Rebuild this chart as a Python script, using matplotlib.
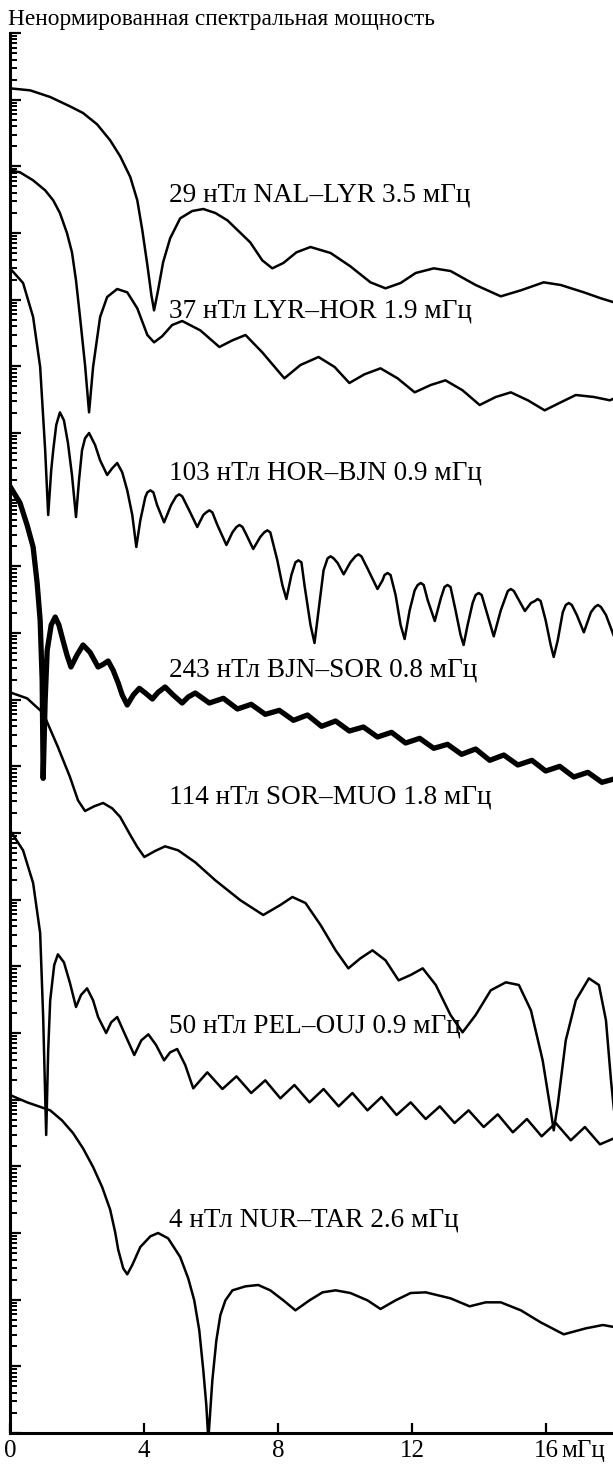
import numpy as np
import matplotlib
matplotlib.use("Agg")
import matplotlib.pyplot as plt

# frequency in mHz, power as log10 (arbitrary units, curves are stacked)
f1 = [0.00, 0.60, 1.20, 1.79, 2.18, 2.60, 2.99, 3.29, 3.59, 3.80, 3.95, 4.10, 4.22, 4.30, 4.42, 4.57,
      4.78, 5.08, 5.44, 5.77, 6.13, 6.49, 7.17, 7.53, 7.83, 8.16, 8.55, 8.97, 9.57, 10.16, 10.76, 11.21,
      11.66, 12.11, 12.65, 13.15, 13.90, 14.65, 15.25, 15.93, 16.44, 17.13, 17.64, 18.03]
p1 = [20.17, 20.14, 20.04, 19.90, 19.80, 19.63, 19.39, 19.15, 18.84, 18.49, 18.04, 17.52, 17.07, 16.84,
      17.14, 17.56, 17.92, 18.22, 18.33, 18.36, 18.30, 18.19, 17.86, 17.59, 17.47, 17.55, 17.71, 17.79,
      17.70, 17.50, 17.26, 17.17, 17.25, 17.40, 17.47, 17.43, 17.22, 17.05, 17.14, 17.26, 17.22, 17.11,
      17.02, 16.96]

f2 = [0.00, 0.30, 0.69, 1.05, 1.29, 1.49, 1.70, 1.85, 1.97, 2.09, 2.24, 2.36, 2.48, 2.69, 2.90, 3.20,
      3.50, 3.80, 4.10, 4.30, 4.54, 4.84, 5.14, 5.68, 6.25, 6.64, 7.03, 7.53, 8.19, 8.67, 9.21, 9.69,
      10.13, 10.58, 11.06, 11.57, 12.08, 12.56, 13.00, 13.51, 14.02, 14.50, 14.95, 15.46, 15.96, 16.44,
      16.89, 17.43, 17.91, 18.03]
p2 = [18.94, 18.91, 18.79, 18.64, 18.49, 18.30, 18.00, 17.71, 17.29, 16.74, 16.02, 15.31, 15.99, 16.74,
      17.04, 17.16, 17.11, 16.87, 16.47, 16.36, 16.45, 16.62, 16.68, 16.54, 16.29, 16.39, 16.47, 16.21,
      15.82, 16.02, 16.14, 15.99, 15.75, 15.88, 15.97, 15.82, 15.61, 15.72, 15.79, 15.64, 15.42, 15.54,
      15.61, 15.49, 15.34, 15.46, 15.57, 15.54, 15.49, 15.52]

f3 = [0.00, 0.39, 0.69, 0.90, 1.05, 1.14, 1.23, 1.29, 1.38, 1.49, 1.61, 1.73, 1.85, 1.97, 2.06, 2.15,
      2.24, 2.36, 2.54, 2.69, 2.90, 3.05, 3.20, 3.35, 3.50, 3.65, 3.77, 3.89, 4.04, 4.19, 4.39, 4.60,
      4.81, 5.05, 5.32, 5.59, 5.77, 5.95, 6.19, 6.46, 6.64, 6.85, 7.06, 7.26, 7.47, 7.68, 7.83, 7.98,
      8.13, 8.25, 8.40, 8.61, 8.79, 8.97, 9.09, 9.21, 9.36, 9.57, 9.78, 9.96, 10.16, 10.40, 10.67,
      10.97, 11.12, 11.27, 11.51, 11.66, 11.78, 11.93, 12.08, 12.26, 12.47, 12.68, 12.86, 13.06, 13.30,
      13.45, 13.54, 13.66, 13.81, 13.99, 14.23, 14.44, 14.65, 14.95, 15.16, 15.37, 15.55, 15.75, 15.99,
      16.14, 16.23, 16.35, 16.50, 16.68, 16.92, 17.13, 17.34, 17.55, 17.79, 18.03]
p3 = [17.47, 17.25, 16.74, 15.99, 14.74, 13.77, 14.44, 14.74, 15.12, 15.31, 15.19, 14.85, 14.37, 13.74,
      14.29, 14.74, 14.92, 15.00, 14.82, 14.59, 14.37, 14.47, 14.55, 14.41, 14.14, 13.77, 13.29, 13.69,
      14.04, 14.14, 13.92, 13.66, 13.92, 14.08, 13.87, 13.59, 13.77, 13.84, 13.62, 13.32, 13.51, 13.62,
      13.47, 13.26, 13.44, 13.54, 13.39, 13.09, 12.72, 12.51, 12.87, 13.09, 12.72, 12.12, 11.85, 12.34,
      12.94, 13.15, 13.05, 12.88, 13.06, 13.18, 12.97, 12.66, 12.79, 12.90, 12.57, 12.12, 11.91, 12.34,
      12.64, 12.75, 12.49, 12.18, 12.52, 12.72, 12.34, 11.97, 11.82, 12.12, 12.45, 12.60, 12.31, 11.95,
      12.34, 12.66, 12.52, 12.33, 12.45, 12.51, 12.19, 11.82, 11.64, 11.89, 12.31, 12.45, 12.27, 12.01,
      12.31, 12.42, 12.27, 11.95]
# shoulders of the rounded peaks of curve 3
f3_pk = [4.10, 4.28, 4.96, 5.14, 5.86, 6.04, 6.76, 6.94, 7.59, 7.77, 8.52, 8.70, 9.48, 9.66, 10.31,
         10.49, 11.18, 11.36, 12.17, 12.35, 12.97, 13.15, 13.90, 14.08, 14.86, 15.04, 15.67, 15.84,
         16.59, 16.77, 17.46, 17.64]
p3_pk = [14.11, 14.11, 14.05, 14.05, 13.81, 13.81, 13.59, 13.59, 13.51, 13.51, 13.06, 13.06, 13.12,
         13.12, 13.15, 13.15, 12.87, 12.87, 12.72, 12.72, 12.69, 12.69, 12.57, 12.57, 12.63, 12.63,
         12.48, 12.48, 12.42, 12.42, 12.39, 12.39]

f4 = [0.00, 0.30, 0.51, 0.69, 0.81, 0.90, 0.96, 0.99, 1.05, 1.11, 1.23, 1.35, 1.46, 1.58, 1.70, 1.82,
      2.00, 2.18, 2.39, 2.63, 2.78, 2.93, 3.08, 3.23, 3.35, 3.50, 3.68, 3.86, 4.04, 4.25, 4.42, 4.63,
      4.87, 5.14, 5.32, 5.53, 5.95, 6.37, 6.79, 7.20, 7.62, 8.04, 8.46, 8.88, 9.30, 9.72, 10.13, 10.55,
      10.97, 11.39, 11.81, 12.23, 12.65, 13.06, 13.48, 13.90, 14.32, 14.74, 15.16, 15.58, 15.99, 16.41,
      16.83, 17.25, 17.67, 18.03]
p4 = [14.20, 13.95, 13.62, 13.29, 12.75, 12.19, 11.29, 9.82, 11.00, 11.74, 12.12, 12.24, 12.12, 11.89,
      11.67, 11.49, 11.67, 11.82, 11.71, 11.49, 11.53, 11.58, 11.44, 11.25, 11.07, 10.92, 11.07, 11.17,
      11.10, 11.01, 11.11, 11.19, 11.07, 10.95, 11.04, 11.10, 10.95, 11.02, 10.86, 10.93, 10.78, 10.84,
      10.69, 10.77, 10.60, 10.68, 10.53, 10.59, 10.44, 10.51, 10.35, 10.42, 10.27, 10.33, 10.18, 10.26,
      10.09, 10.17, 10.02, 10.09, 9.93, 10.00, 9.84, 9.91, 9.76, 9.81]

f5 = [0.00, 0.51, 0.99, 1.43, 1.79, 2.03, 2.24, 2.51, 2.78, 3.05, 3.29, 3.59, 3.80, 4.01, 4.33, 4.63,
      5.02, 5.53, 6.13, 6.88, 7.56, 8.07, 8.43, 8.82, 9.27, 9.72, 10.10, 10.46, 10.82, 11.21, 11.60,
      11.96, 12.32, 12.71, 13.15, 13.51, 13.90, 14.35, 14.80, 15.19, 15.55, 15.90, 16.14, 16.23, 16.35,
      16.59, 16.89, 17.28, 17.58, 17.79, 17.94, 18.03]
p5 = [11.11, 11.02, 10.80, 10.29, 9.84, 9.49, 9.33, 9.40, 9.45, 9.37, 9.24, 8.97, 8.79, 8.64, 8.73, 8.80,
      8.74, 8.56, 8.29, 7.99, 7.77, 7.92, 8.04, 7.95, 7.62, 7.24, 6.97, 7.12, 7.24, 7.09, 6.79, 6.87,
      6.97, 6.72, 6.27, 6.01, 6.27, 6.64, 6.76, 6.72, 6.34, 5.59, 4.84, 4.54, 4.92, 5.89, 6.49, 6.82,
      6.72, 6.19, 5.29, 4.84]

f6 = [0.00, 0.39, 0.69, 0.90, 0.99, 1.08, 1.14, 1.20, 1.32, 1.43, 1.61, 1.79, 1.97, 2.12, 2.30, 2.48,
      2.63, 2.87, 3.02, 3.20, 3.44, 3.71, 3.92, 4.13, 4.36, 4.60, 4.78, 4.99, 5.23, 5.47, 5.89, 6.34,
      6.76, 7.20, 7.62, 8.07, 8.49, 8.94, 9.36, 9.81, 10.22, 10.67, 11.09, 11.54, 11.96, 12.41, 12.83,
      13.27, 13.69, 14.14, 14.56, 15.01, 15.43, 15.87, 16.29, 16.74, 17.16, 17.61, 18.03]
p6 = [9.04, 8.74, 8.25, 7.50, 6.24, 4.47, 5.74, 6.49, 7.02, 7.18, 7.06, 6.75, 6.39, 6.57, 6.67, 6.49,
      6.24, 6.00, 6.16, 6.24, 5.97, 5.67, 5.89, 5.98, 5.82, 5.59, 5.71, 5.76, 5.52, 5.17, 5.41, 5.16,
      5.35, 5.10, 5.29, 5.02, 5.22, 4.96, 5.16, 4.90, 5.10, 4.84, 5.04, 4.77, 4.96, 4.71, 4.90, 4.65,
      4.84, 4.59, 4.78, 4.51, 4.71, 4.45, 4.65, 4.39, 4.59, 4.33, 4.42]

f7 = [0.00, 0.51, 1.20, 1.55, 1.88, 2.18, 2.48, 2.75, 2.99, 3.14, 3.23, 3.38, 3.50, 3.65, 3.89, 4.19,
      4.42, 4.72, 5.08, 5.32, 5.50, 5.65, 5.77, 5.86, 5.92, 6.04, 6.16, 6.28, 6.43, 6.64, 7.03, 7.41,
      7.77, 8.16, 8.52, 8.94, 9.33, 9.72, 10.16, 10.67, 11.06, 11.51, 11.96, 12.41, 13.15, 13.72, 14.20,
      14.65, 15.25, 15.84, 16.53, 17.19, 17.70, 18.03]
p7 = [5.07, 4.96, 4.84, 4.69, 4.50, 4.27, 3.99, 3.69, 3.35, 3.01, 2.75, 2.47, 2.38, 2.52, 2.79, 2.95,
      3.00, 2.92, 2.64, 2.32, 1.99, 1.54, 0.94, 0.42, -0.10, 0.79, 1.39, 1.77, 1.99, 2.14, 2.20, 2.22,
      2.14, 1.99, 1.84, 1.99, 2.11, 2.14, 2.10, 1.99, 1.86, 1.99, 2.10, 2.11, 2.02, 1.90, 1.96, 1.96,
      1.84, 1.66, 1.48, 1.57, 1.62, 1.59]

labels = ["29 нТл NAL–LYR 3.5 мГц", "37 нТл LYR–HOR 1.9 мГц", "103 нТл HOR–BJN 0.9 мГц",
          "243 нТл BJN–SOR 0.8 мГц", "114 нТл SOR–MUO 1.8 мГц", "50 нТл PEL–OUJ 0.9 мГц",
          "4 нТл NUR–TAR 2.6 мГц"]
label_lg = [18.48, 16.74, 14.31, 11.35, 9.45, 6.00, 3.10]
label_f = 4.75

xticks = [0, 4, 8, 12, 16]
xticklabels = ["0", "4", "8", "12", "16"]

serif = ["Liberation Serif", "DejaVu Serif"]
plt.rcParams["font.family"] = serif

fig = plt.figure(figsize=(6.13, 14.65), dpi=100)
ax = fig.add_axes([10 / 613, 32 / 1465, 603 / 613, 1400 / 1465])

# merge peak shoulders into curve 3
order = np.argsort(f3 + f3_pk, kind="stable")
f3_all = np.array(f3 + f3_pk)[order]
p3_all = np.array(p3 + p3_pk)[order]

curves = [(f1, p1), (f2, p2), (f3_all, p3_all), (f4, p4), (f5, p5), (f6, p6), (f7, p7)]
for i, (f, p) in enumerate(curves):
    lw = 3.8 if i == 3 else 1.8
    ax.plot(f, 10.0 ** np.array(p), color="black", lw=lw, solid_joinstyle="round",
            solid_capstyle="round")

for txt, lg in zip(labels, label_lg):
    ax.text(label_f, 10.0 ** lg, txt, fontsize=19.6, va="baseline", ha="left")

ax.set_yscale("log")
ax.set_ylim(1e0, 1e21)
ax.set_xlim(0, 18.0)
ax.set_yticks([10.0 ** k for k in range(22)])
ax.yaxis.set_major_formatter(matplotlib.ticker.NullFormatter())
ax.yaxis.set_minor_locator(matplotlib.ticker.LogLocator(base=10, subs=np.arange(2, 10), numticks=100))
ax.yaxis.set_minor_formatter(matplotlib.ticker.NullFormatter())
ax.set_xticks(xticks)
ax.set_xticklabels(xticklabels)
ax.tick_params(axis="y", which="major", direction="in", length=8, width=1.6)
ax.tick_params(axis="y", which="minor", direction="in", length=5, width=1.4)
ax.tick_params(axis="x", which="major", direction="in", length=7, width=1.6, labelsize=18, pad=5)

for s in ["top", "right"]:
    ax.spines[s].set_visible(False)
for s in ["left", "bottom"]:
    ax.spines[s].set_linewidth(2.2)

ax.annotate("мГц", xy=(16.45, 0), xycoords=("data", "axes fraction"), xytext=(0, -5),
            textcoords="offset points", ha="left", va="top", fontsize=18)

fig.text(8 / 613, 1 - 25 / 1465, "Ненормированная спектральная мощность", fontsize=16.8,
         ha="left", va="baseline")

fig.savefig("out.png", dpi=100)
